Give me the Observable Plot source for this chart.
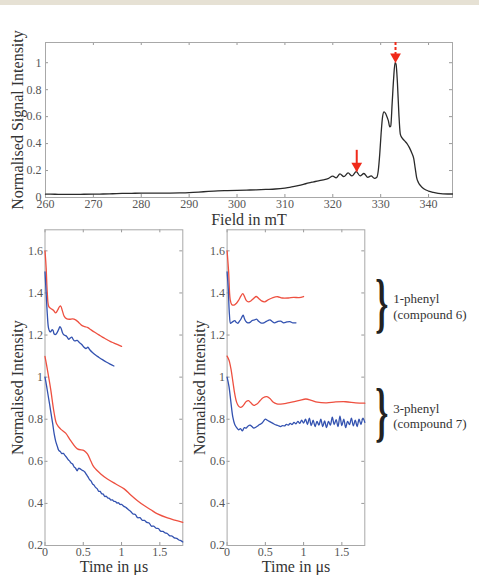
<!DOCTYPE html>
<html><head><meta charset="utf-8">
<script src="https://cdn.jsdelivr.net/npm/d3@7"></script>
<script src="https://cdn.jsdelivr.net/npm/@observablehq/plot@0.6"></script>
<style>
body{margin:0;background:#fff;width:479px;height:575px;overflow:hidden;position:relative;}
#band{position:absolute;left:0;top:0;width:479px;height:5px;background:#e6e1d4;z-index:2}
.panel{position:absolute}
</style></head><body>
<div id="band"></div>
<div id="bl" class="panel" style="left:0;top:226px"></div>
<div id="br" class="panel" style="left:185px;top:226px"></div>
<div id="top" class="panel" style="left:0;top:0"></div>
<script>
// ---------- ticks ----------
const fieldTicks = [260,270,280,290,300,310,320,330,340];
const signalTicks = [0,0.2,0.4,0.6,0.8,1];
const timeTicks = [0,0.5,1,1.5];
const intensityTicks = [0.2,0.4,0.6,0.8,1,1.2,1.4,1.6];

// ---------- EPR spectrum ----------
const field = [260,262,264,266,268,270,272,274,276,278,280,282,284,286,288,290,292,294,296,298,300,302,304,306,308,310,311,312,313,314,315,316,317,318,319,320.0,320.7,321.5,322.3,323.2,324.0,324.9,325.7,326.5,327.3,328.0,328.7,329.2,329.5,329.8,330.1,330.4,330.7,331.0,331.3,331.6,331.9,332.1,332.4,332.7,333.0,333.2,333.5,333.8,334.1,334.5,335.0,335.5,336.0,336.5,336.9,337.2,337.5,337.9,338.4,339.0,340,341,342,343,344,345];
const signal = [0.025,0.024,0.023,0.023,0.024,0.025,0.026,0.028,0.030,0.031,0.032,0.032,0.033,0.033,0.034,0.036,0.040,0.045,0.049,0.051,0.053,0.055,0.057,0.060,0.063,0.070,0.075,0.082,0.090,0.099,0.108,0.116,0.124,0.131,0.140,0.158,0.145,0.175,0.155,0.182,0.160,0.192,0.160,0.178,0.150,0.160,0.142,0.150,0.20,0.32,0.48,0.60,0.635,0.625,0.60,0.57,0.525,0.53,0.70,0.88,1.0,0.99,0.85,0.62,0.47,0.44,0.42,0.40,0.37,0.33,0.29,0.22,0.15,0.11,0.085,0.065,0.048,0.038,0.031,0.027,0.026,0.026];
const arrowField = [325, 333.1];
const arrowTip = [0.19, 1.0];
const arrowTail = [0.35, 1.15];
const arrowDashed = [false, true];

// ---------- left panel ----------
const leftRed6T = [0,0.015,0.03,0.05,0.08,0.11,0.14,0.165,0.19,0.205,0.225,0.25,0.28,0.32,0.36,0.4,0.44,0.48,0.52,0.56,0.6,0.65,0.7,0.75,0.8,0.85,0.9,0.95,1.0];
const leftRed6 = [1.60,1.52,1.40,1.335,1.325,1.318,1.305,1.318,1.335,1.338,1.318,1.29,1.278,1.275,1.277,1.272,1.26,1.246,1.24,1.235,1.225,1.213,1.202,1.19,1.18,1.17,1.162,1.154,1.146];
const leftBlue6T = [0,0.015,0.03,0.045,0.06,0.075,0.09,0.105,0.12,0.14,0.16,0.18,0.195,0.21,0.23,0.25,0.27,0.29,0.31,0.33,0.35,0.37,0.39,0.42,0.45,0.48,0.51,0.535,0.56,0.585,0.62,0.66,0.7,0.75,0.8,0.85,0.9];
const leftBlue6 = [1.50,1.40,1.30,1.235,1.218,1.215,1.225,1.222,1.205,1.203,1.213,1.228,1.24,1.232,1.21,1.2,1.197,1.19,1.18,1.186,1.19,1.178,1.172,1.175,1.164,1.155,1.142,1.136,1.142,1.13,1.117,1.105,1.095,1.083,1.072,1.062,1.053];
const leftRed7T = [0,0.03,0.074,0.118,0.153,0.205,0.27,0.336,0.423,0.51,0.554,0.6,0.64,0.728,0.815,0.925,1.034,1.12,1.208,1.295,1.382,1.47,1.6,1.8];
const leftRed7 = [1.098,1.038,0.943,0.833,0.777,0.753,0.734,0.698,0.659,0.651,0.635,0.600,0.572,0.54,0.516,0.492,0.469,0.44,0.413,0.39,0.37,0.35,0.331,0.31];
const leftBlue7T = [0,0.02,0.04,0.06,0.08,0.1,0.12,0.14,0.16,0.18,0.2,0.22,0.24,0.26,0.28,0.3,0.32,0.34,0.36,0.38,0.4,0.42,0.44,0.46,0.48,0.5,0.52,0.54,0.56,0.58,0.6,0.62,0.64,0.66,0.68,0.7,0.72,0.74,0.76,0.78,0.8,0.82,0.84,0.86,0.88,0.9,0.92,0.94,0.96,0.98,1.0,1.03,1.06,1.09,1.12,1.15,1.18,1.21,1.24,1.27,1.3,1.33,1.36,1.39,1.42,1.45,1.48,1.51,1.54,1.57,1.6,1.63,1.66,1.69,1.72,1.75,1.78,1.8];
const leftBlue7 = [1.0,0.96,0.915,0.872,0.825,0.78,0.73,0.695,0.672,0.652,0.646,0.637,0.638,0.628,0.62,0.609,0.602,0.592,0.587,0.574,0.567,0.555,0.567,0.564,0.559,0.555,0.549,0.538,0.527,0.514,0.507,0.493,0.487,0.476,0.47,0.458,0.457,0.446,0.444,0.433,0.434,0.426,0.424,0.416,0.417,0.41,0.409,0.402,0.403,0.395,0.395,0.386,0.38,0.37,0.362,0.35,0.347,0.332,0.332,0.32,0.319,0.31,0.307,0.292,0.292,0.282,0.281,0.268,0.267,0.26,0.256,0.246,0.245,0.236,0.234,0.226,0.222,0.217];

// ---------- right panel ----------
const rightRed6T = [0,0.02,0.04,0.06,0.09,0.12,0.15,0.18,0.205,0.225,0.25,0.28,0.31,0.35,0.38,0.41,0.45,0.49,0.54,0.6,0.66,0.72,0.8,0.87,0.94,1.0];
const rightRed6 = [1.60,1.50,1.37,1.345,1.342,1.35,1.365,1.385,1.397,1.385,1.365,1.358,1.362,1.375,1.383,1.375,1.362,1.358,1.368,1.378,1.382,1.376,1.376,1.379,1.378,1.383];
const rightBlue6T = [0,0.015,0.03,0.045,0.06,0.08,0.1,0.12,0.14,0.16,0.18,0.2,0.21,0.225,0.245,0.27,0.3,0.33,0.36,0.385,0.41,0.44,0.47,0.5,0.53,0.56,0.59,0.62,0.66,0.7,0.74,0.78,0.82,0.86,0.9];
const rightBlue6 = [1.50,1.42,1.30,1.255,1.26,1.265,1.268,1.26,1.256,1.265,1.275,1.29,1.295,1.28,1.265,1.258,1.26,1.27,1.272,1.276,1.266,1.258,1.257,1.262,1.268,1.272,1.264,1.258,1.264,1.266,1.258,1.262,1.264,1.258,1.258];
const rightRed7T = [0,0.025,0.05,0.075,0.1,0.125,0.15,0.175,0.2,0.225,0.25,0.28,0.31,0.35,0.39,0.43,0.47,0.52,0.56,0.6,0.65,0.7,0.78,0.86,0.95,1.03,1.1,1.18,1.3,1.42,1.55,1.68,1.8];
const rightRed7 = [1.10,1.08,1.04,0.98,0.92,0.88,0.862,0.856,0.86,0.872,0.884,0.888,0.878,0.866,0.872,0.888,0.902,0.907,0.898,0.882,0.873,0.872,0.876,0.882,0.89,0.896,0.89,0.881,0.878,0.882,0.883,0.878,0.876];
const rightBlue7T = [0,0.025,0.05,0.075,0.1,0.125,0.15,0.175,0.2,0.225,0.25,0.275,0.3,0.325,0.35,0.375,0.4,0.425,0.45,0.475,0.5,0.525,0.55,0.575,0.6,0.625,0.65,0.675,0.7,0.725,0.75,0.775,0.8,0.825,0.85,0.875,0.9,0.925,0.95,0.975,1.0,1.025,1.05,1.075,1.1,1.125,1.15,1.175,1.2,1.225,1.25,1.275,1.3,1.325,1.35,1.375,1.4,1.425,1.45,1.475,1.5,1.525,1.55,1.575,1.6,1.625,1.65,1.675,1.7,1.725,1.75,1.775,1.8];
const rightBlue7 = [1.0,0.955,0.88,0.81,0.775,0.76,0.75,0.755,0.745,0.76,0.758,0.768,0.772,0.765,0.758,0.762,0.768,0.775,0.78,0.79,0.80,0.795,0.79,0.785,0.78,0.775,0.772,0.768,0.765,0.77,0.768,0.775,0.772,0.78,0.775,0.785,0.778,0.79,0.78,0.795,0.782,0.80,0.775,0.805,0.77,0.795,0.765,0.79,0.772,0.80,0.765,0.792,0.76,0.79,0.772,0.81,0.775,0.798,0.765,0.815,0.77,0.80,0.76,0.79,0.775,0.805,0.768,0.795,0.765,0.80,0.775,0.805,0.785];

const groupLabels = ["1-phenyl\n(compound 6)", "3-phenyl\n(compound 7)"];

// ---------- helpers ----------
const FONT = "'Liberation Serif','Times New Roman',serif";
const RED = "#ee5040", BLUE = "#3352b0", FRAME = "#a8a8a8", TICK = "#999";
const rows = (t, v) => t.map((x, i) => ({t: x, v: v[i]}));

function inwardTicks(xt, yt, fw, fh) {
  const s = {stroke: TICK, strokeWidth: 1};
  return [
    Plot.ruleX(xt, {x: d => d, insetTop: fh - 3, ...s}),
    Plot.ruleX(xt, {x: d => d, insetBottom: fh - 3, ...s}),
    Plot.ruleY(yt, {y: d => d, insetRight: fw - 3, ...s}),
    Plot.ruleY(yt, {y: d => d, insetLeft: fw - 3, ...s})
  ];
}
const titleStyle = {fontSize: 16, fill: "#333", text: d => d, textAnchor: "middle"};

// ---------- top panel ----------
const spectrum = field.map((f, i) => ({field: f, signal: signal[i]}));
const arrows = arrowField.map((f, i) => ({field: f, tip: arrowTip[i], tail: arrowTail[i], dashed: arrowDashed[i]}));
const topW = 479, topH = 230, tML = 45, tMR = 27, tMT = 42, tMB = 33;
const topPlot = Plot.plot({
  width: topW, height: topH, marginLeft: tML, marginRight: tMR, marginTop: tMT, marginBottom: tMB,
  x: {domain: [260, 345], label: null},
  y: {domain: [0, 1.15], label: null},
  style: {fontFamily: FONT, fontSize: "12px", color: "#555", background: "transparent"},
  marks: [
    Plot.axisX(fieldTicks, {tickSize: 0, tickPadding: 2, label: null}),
    Plot.axisY(signalTicks, {tickSize: 0, tickPadding: 4, label: null, tickFormat: d => String(d)}),
    ...inwardTicks(fieldTicks, signalTicks, topW - tML - tMR, topH - tMT - tMB),
    Plot.frame({stroke: FRAME}),
    Plot.line(spectrum, {x: "field", y: "signal", stroke: "#2a2a2a", strokeWidth: 1.3, curve: "monotone-x"}),
    Plot.ruleX(arrows.filter(d => !d.dashed), {x: "field", y1: "tail", y2: "tip", stroke: "#f02a1a", strokeWidth: 2}),
    Plot.ruleX(arrows.filter(d => d.dashed), {x: "field", y1: "tail", y2: "tip", stroke: "#f02a1a", strokeWidth: 2, strokeDasharray: "3,2"}),
    Plot.dot(arrows, {x: "field", y: "tip", symbol: "triangle", r: 4, fill: "#f02a1a", stroke: "none", rotate: 180, dy: -6}),
    Plot.text(["Normalised Signal Intensity"], {frameAnchor: "left", dx: -28, rotate: -90, ...titleStyle}),
    Plot.text(["Field in mT"], {frameAnchor: "bottom", dy: 22, lineAnchor: "middle", ...titleStyle})
  ]
});
document.getElementById("top").appendChild(topPlot);

// ---------- bottom panels ----------
function decayPanel(W, ML, MR, series, extra) {
  const H = 349, MT = 3.3, MB = 30;
  return Plot.plot({
    width: W, height: H, marginLeft: ML, marginRight: MR, marginTop: MT, marginBottom: MB,
    x: {domain: [0, 1.8], label: null},
    y: {domain: [0.2, 1.7], label: null},
    style: {fontFamily: FONT, fontSize: "12px", color: "#555", background: "transparent", overflow: "visible"},
    marks: [
      Plot.axisX(timeTicks, {tickSize: 0, tickPadding: 2, label: null, tickFormat: d => String(d)}),
      Plot.axisY(intensityTicks, {tickSize: 0, tickPadding: 2, label: null, tickFormat: d => String(d)}),
      ...inwardTicks(timeTicks, intensityTicks, W - ML - MR, H - MT - MB),
      Plot.frame({stroke: FRAME}),
      ...series.map(s => Plot.line(s.data, {x: "t", y: "v", stroke: s.color, strokeWidth: 1.3, curve: "catmull-rom"})),
      Plot.text(["Normalised Intensity"], {frameAnchor: "left", dx: -27, rotate: -90, ...titleStyle}),
      Plot.text(["Time in \u03bcs"], {frameAnchor: "bottom", dy: 21.7, lineAnchor: "middle", ...titleStyle}),
      ...(extra || [])
    ]
  });
}

const leftPlot = decayPanel(185, 44.5, 2.7, [
  {data: rows(leftRed6T, leftRed6), color: RED},
  {data: rows(leftBlue6T, leftBlue6), color: BLUE},
  {data: rows(leftRed7T, leftRed7), color: RED},
  {data: rows(leftBlue7T, leftBlue7), color: BLUE}
]);
document.getElementById("bl").appendChild(leftPlot);

// group annotations: centred between the end values of each pair of traces
const groups = [
  {label: groupLabels[0], y: (rightRed6[rightRed6.length - 1] + rightBlue6[rightBlue6.length - 1]) / 2, off: -1},
  {label: groupLabels[1], y: (rightRed7[rightRed7.length - 1] + rightBlue7[rightBlue7.length - 1]) / 2, off: 5}
];
const annot = groups.map(g => Plot.text([g], {y: "y", frameAnchor: "right", dx: 28.4, dy: g.off - 2.5, text: "label", fontSize: 13, fill: "#333", textAnchor: "start", lineAnchor: "middle", lineHeight: 1.2}));
const RW = 294, RML = 41.6, RMR = 114.7;
const rightPlot = decayPanel(RW, RML, RMR, [
  {data: rows(rightRed6T, rightRed6), color: RED},
  {data: rows(rightBlue6T, rightBlue6), color: BLUE},
  {data: rows(rightRed7T, rightRed7), color: RED},
  {data: rows(rightBlue7T, rightBlue7), color: BLUE}
], annot);
document.getElementById("br").appendChild(rightPlot);

// curly braces, placed with the panel's own y scale
const ys = rightPlot.scale("y");
const braceX = RW - RMR + 17.4;
const braceSize = 66;
groups.forEach(g => {
  const cy = ys.apply(g.y) + g.off;
  d3.select(rightPlot).append("text")
    .attr("transform", `translate(${braceX},${cy + 0.253 * braceSize}) scale(0.5,1)`)
    .attr("text-anchor", "middle")
    .attr("font-family", FONT)
    .attr("font-size", braceSize)
    .attr("font-weight", "bold")
    .attr("fill", "#222")
    .text("}");
});
</script></body></html>
